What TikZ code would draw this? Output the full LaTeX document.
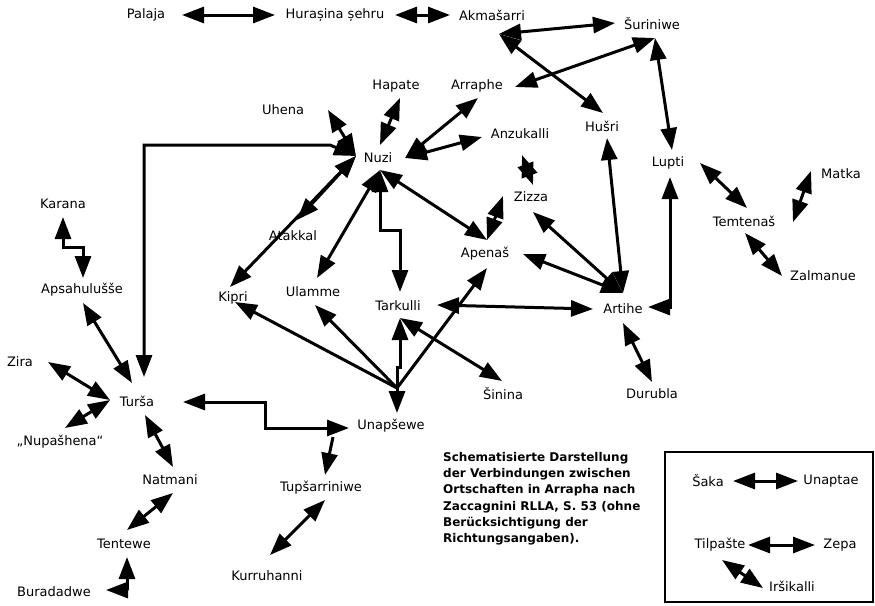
\documentclass[tikz,border=0pt]{standalone}
\usepackage{fontspec}
\setmainfont{DejaVu Sans}
\usetikzlibrary{arrows.meta}

\begin{document}
\begin{tikzpicture}[x=1pt,y=-1pt,
  place/.style={font=\fontsize{13}{15}\selectfont, inner sep=1pt},
  link/.style={line width=3pt, {Triangle[length=22pt,width=16pt]}-{Triangle[length=22pt,width=16pt]}},
  half/.style={line width=3pt, -{Triangle[length=22pt,width=16pt]}},
  tail/.style={line width=3pt, {Triangle[length=22pt,width=16pt]}-}]
\useasboundingbox (0,0) rectangle (875,605);
\fill [white] (0,0) rectangle (875,605);
% places
\node[place] (palaja) at (146,15) {Palaja};
\node[place] (hur) at (335,15) {Hurașina șehru};
\node[place] (akma) at (492,15) {Akmašarri};
\node[place] (suri) at (652,24) {Šuriniwe};
\node[place] (hapate) at (396,86) {Hapate};
\node[place] (arraphe) at (477,86) {Arraphe};
\node[place] (uhena) at (283,110) {Uhena};
\node[place] (anzu) at (520,134) {Anzukalli};
\node[place] (husri) at (602,126) {Hušri};
\node[place] (nuzi) at (378,158) {Nuzi};
\node[place] (lupti) at (668,163) {Lupti};
\node[place] (matka) at (841,174) {Matka};
\node[place] (zizza) at (531,197) {Zizza};
\node[place] (karana) at (63,204) {Karana};
\node[place] (temt) at (744,221) {Temtenaš};
\node[place] (atakkal) at (293,236) {Atakkal};
\node[place] (apenas) at (485,254) {Apenaš};
\node[place] (zalm) at (823,276) {Zalmanue};
\node[place] (apsa) at (82,290) {Apsahulušše};
\node[place] (kipri) at (233,298) {Kipri};
\node[place] (ulamme) at (313,292) {Ulamme};
\node[place] (tark) at (398,306) {Tarkulli};
\node[place] (artihe) at (623,309) {Artihe};
\node[place] (zira) at (20,362) {Zira};
\node[place] (sinina) at (503,394) {Šinina};
\node[place] (durubla) at (652,394) {Durubla};
\node[place] (tursa) at (137,401) {Turša};
\node[place] (unap) at (391,426) {Unapšewe};
\node[place] (nupa) at (60,442) {„Nupašhena“};
\node[place] (natmani) at (170,480) {Natmani};
\node[place] (tups) at (321,488) {Tupšarriniwe};
\node[place] (tentewe) at (124,544) {Tentewe};
\node[place] (kurru) at (267,576) {Kurruhanni};
\node[place] (bura) at (54,592) {Buradadwe};
\node[place] (saka) at (708,481) {Šaka};
\node[place] (unaptae) at (831,481) {Unaptae};
\node[place] (tilp) at (720,545) {Tilpašte};
\node[place] (zepa) at (840,545) {Zepa};
\node[place] (irsi) at (792,586) {Iršikalli};
\node[anchor=north west, align=left, inner sep=0,
  font=\bfseries\fontsize{12}{16.3}\selectfont] (caption) at (443,452)
  {Schematisierte Darstellung\\der Verbindungen zwischen\\Ortschaften in Arrapha nach\\Zaccagnini RLLA, S. 53 (ohne\\Berücksichtigung der\\Richtungsangaben).};
\draw [line width=2.5pt] (665,452) rectangle (873,602);

% arrow ends
\coordinate (palaja-e) at (182,15);  \coordinate (hur-w) at (275,15);
\coordinate (hur-e) at (395,15);     \coordinate (akma-e) at (450,15);
\coordinate (akma-s) at (499,34);    \coordinate (suri-w) at (615,23);
\coordinate (suri-s) at (655,38);    \coordinate (husri-n) at (603,113);
\coordinate (husri-s) at (607,138);  \coordinate (arraphe-e) at (515,87);
\coordinate (arraphe-s) at (478,98); \coordinate (lupti-n) at (672,150);
\coordinate (lupti-s) at (670,177);  \coordinate (lupti-e) at (700,163);
\coordinate (hapate-s) at (400,98);  \coordinate (nuzi-n) at (380,145);
\coordinate (nuzi-e) at (405,158);   \coordinate (nuzi-w) at (356,156);
\coordinate (nuzi-s) at (380,170);   \coordinate (anzu-w) at (482,137);
\coordinate (anzu-s) at (522,155);   \coordinate (zizza-n) at (533,185);
\coordinate (zizza-w) at (503,196);  \coordinate (zizza-s) at (533,212);
\coordinate (uhena-e) at (328,110);  \coordinate (tursa-n) at (144,377);
\coordinate (atakkal-n) at (297,220);\coordinate (kipri-n) at (230,287);
\coordinate (ulamme-n) at (317,278); \coordinate (tark-n) at (400,292);
\coordinate (apenas-n) at (487,240); \coordinate (apenas-e) at (523,254);
\coordinate (apenas-s) at (487,268); \coordinate (artihe-n) at (623,293);
\coordinate (artihe-e) at (648,307); \coordinate (artihe-w) at (593,309);
\coordinate (artihe-s) at (623,323); \coordinate (tark-e) at (437,305);
\coordinate (tark-s) at (400,318);   \coordinate (durubla-n) at (652,382);
\coordinate (temt-n) at (747,208);   \coordinate (temt-e) at (793,222);
\coordinate (matka-w) at (811,171);  \coordinate (temt-s) at (745,233);
\coordinate (zalm-w) at (782,276);   \coordinate (kipri-e) at (235,302);
\coordinate (ulamme-s) at (315,305); \coordinate (unap-j) at (397,388);
\coordinate (unap-n) at (397,413);   \coordinate (sinina-n) at (502,381);
\coordinate (tursa-e) at (183,402);  \coordinate (unap-w) at (349,428);
\coordinate (unap-sw) at (333,437);  \coordinate (tups-n) at (325,475);
\coordinate (tups-s) at (325,500);   \coordinate (kurru-n) at (270,555);
\coordinate (tursa-s) at (145,415);  \coordinate (natmani-n) at (173,467);
\coordinate (natmani-s) at (173,493);\coordinate (tentewe-n) at (127,530);
\coordinate (tentewe-s) at (127,557);\coordinate (bura-e) at (106,590);
\coordinate (apsa-s) at (83,303);    \coordinate (tursa-nw) at (132,383);
\coordinate (karana-s) at (63,217);  \coordinate (apsa-n) at (83,278);
\coordinate (zira-e) at (48,362);    \coordinate (tursa-w) at (110,400);
\coordinate (nupa-n) at (65,428);
\coordinate (saka-e) at (733,481);   \coordinate (unaptae-w) at (798,481);
\coordinate (tilp-e) at (748,545);   \coordinate (zepa-w) at (815,545);
\coordinate (tilp-s) at (722,560);   \coordinate (irsi-w) at (763,588);

% north
\draw [link] (palaja-e) to (hur-w);
\draw [link] (hur-e) to (akma-e);
\draw [link] (akma-s) to (suri-w);
\draw [link] (akma-s) to (husri-n);
\draw [link] (suri-s) to (arraphe-e);
\draw [link] (suri-s) to (lupti-n);
\draw [link] (hapate-s) to (nuzi-n);
\draw [link] (arraphe-s) to (nuzi-e);
\draw [link] (anzu-w) to (nuzi-e);
\draw [link] (anzu-s) to (zizza-n);
% around Nuzi
\draw [link] (uhena-e) to (nuzi-w);
\draw [link] (tursa-n) -- (144,145) -- (330,145) -- (nuzi-w);
\draw [link] (atakkal-n) to (nuzi-w);
\draw [link] (kipri-n) to (nuzi-w);
\draw [link] (nuzi-s) to (ulamme-n);
\draw [link] (nuzi-s) -- (380,230) -- (400,230) -- (tark-n);
\draw [link] (nuzi-s) to (apenas-n);
\draw [link] (zizza-w) to (apenas-n);
% Artihe
\draw [link] (zizza-s) to (artihe-n);
\draw [link] (apenas-e) to (artihe-n);
\draw [link] (husri-s) to (artihe-n);
\draw [link] (lupti-s) |- (artihe-e);
\draw [link] (tark-e) to (artihe-w);
\draw [link] (artihe-s) to (durubla-n);
\draw [link] (lupti-e) to (temt-n);
\draw [link] (matka-w) to (temt-e);
\draw [link] (temt-s) to (zalm-w);
% Unapsewe
\draw [tail] (kipri-e) to (unap-j);
\draw [tail] (ulamme-s) to (unap-j);
\draw [tail] (tark-s) -- (400,367) -- (397,367) -- (unap-j);
\draw [tail] (apenas-s) to (unap-j);
\draw [half] (unap-j) to (unap-n);
\draw [link] (tark-s) to (sinina-n);
\draw [link] (tursa-e) -- (265,402) -- (265,428) -- (unap-w);
\draw [half] (unap-sw) to (tups-n);
\draw [link] (tups-s) to (kurru-n);
% Tursa
\draw [link] (tursa-s) to (natmani-n);
\draw [link] (natmani-s) to (tentewe-n);
\draw [link] (tentewe-s) |- (bura-e);
\draw [link] (apsa-s) to (tursa-nw);
\draw [link] (karana-s) -- (63,247) -- (83,247) -- (apsa-n);
\draw [link] (zira-e) to (tursa-w);
\draw [link] (nupa-n) to (tursa-w);
% legend
\draw [link] (saka-e) to (unaptae-w);
\draw [link] (tilp-e) to (zepa-w);
\draw [link] (tilp-s) to (irsi-w);
\end{tikzpicture}
\end{document}
